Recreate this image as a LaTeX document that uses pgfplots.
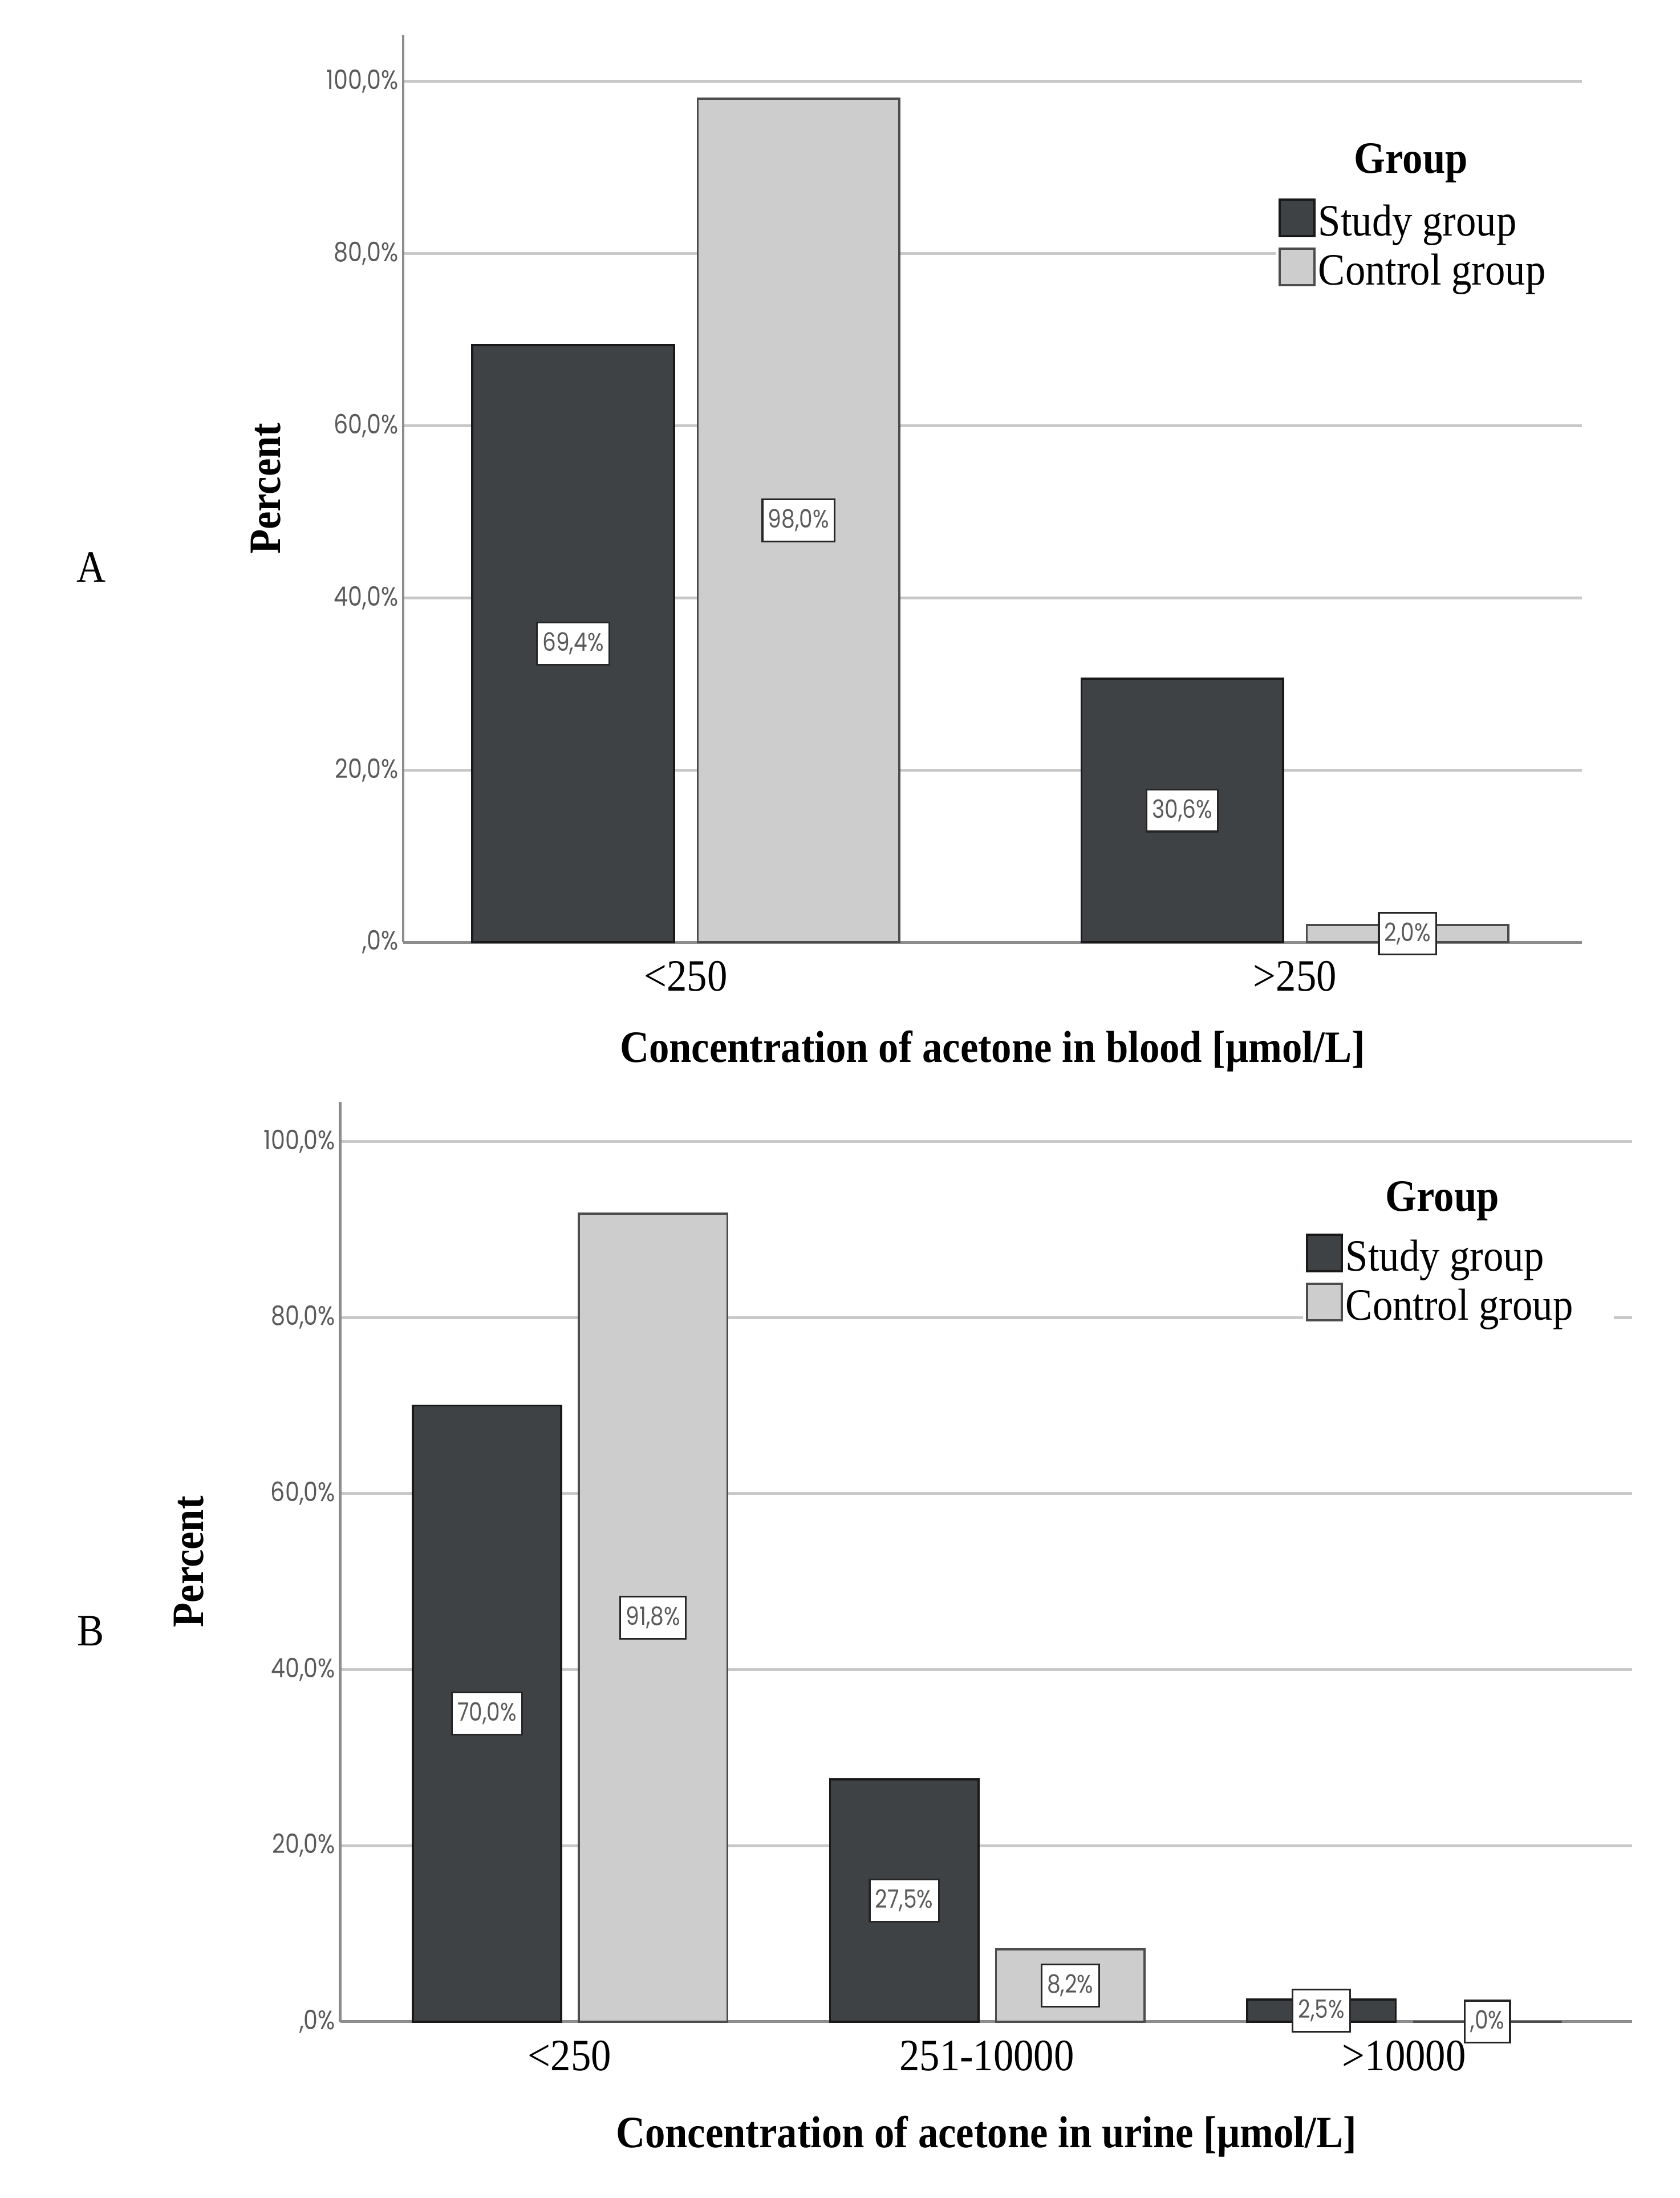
\documentclass[border=0pt]{standalone}
\usepackage{fontspec}
\setmainfont{Liberation Serif}[FakeStretch=0.9]
\newfontfamily\tickfont{Poppins}[FakeStretch=0.85]
\usepackage{pgfplots}
\pgfplotsset{compat=1.18}
\definecolor{studyc}{HTML}{3F4245}
\definecolor{ctrlc}{HTML}{CDCDCD}
\definecolor{gridc}{HTML}{C8C8C8}
\definecolor{axc}{HTML}{8C8C8C}
\definecolor{tickc}{HTML}{5A5A5A}
\pgfplotsset{
  mystyle/.style={
    scale only axis,
    axis x line*=bottom, axis y line*=left,
    axis line style={-, draw=axc, line width=2pt},
    ymajorgrids, grid style={gridc, line width=2pt},
    major tick length=0pt,
    ytick={0,20,40,60,80,100},
    yticklabels={{,0\%},{20,0\%},{40,0\%},{60,0\%},{80,0\%},{100,0\%}},
    yticklabel style={font=\tickfont\fontsize{19}{19}\selectfont, text=tickc},
    xticklabel style={font=\fontsize{32}{32}\selectfont, yshift=-10pt},
    xlabel style={font=\bfseries\fontsize{32}{32}\selectfont},
    ylabel style={font=\bfseries\fontsize{32}{32}\selectfont},
    legend style={draw=none, fill=white, font=\fontsize{32}{34}\selectfont,
      inner sep=2pt, row sep=5pt, cells={anchor=west}},
    clip=false,
  },
  studybar/.style={ybar, bar shift=0pt, fill=studyc, draw=black!90, line width=1.5pt,
    legend image code/.code={\draw[fill=studyc, draw=black!90, line width=1.5pt] (0pt,-10.5pt) rectangle (25pt,15.5pt);}},
  ctrlbar/.style={ybar, bar shift=0pt, fill=ctrlc, draw=black!70, line width=1.5pt,
    legend image code/.code={\draw[fill=ctrlc, draw=black!70, line width=1.5pt] (0pt,-10.5pt) rectangle (25pt,15.5pt);}},
  lab/.style={draw=none, mark=none, nodes near coords, point meta=explicit symbolic,
    nodes near coords align=center,
    every node near coord/.append style={anchor=center, font=\tickfont\fontsize{18}{18}\selectfont,
      text=tickc, fill=white, draw=black!85, line width=1.3pt, inner xsep=4pt, inner ysep=2pt,
      minimum height=30pt}},
}
\begin{document}
\begin{tikzpicture}[x=1pt,y=1pt]
\path[use as bounding box] (0,0) rectangle (1200,-1570);
\node[font=\fontsize{32}{32}\selectfont] at (65,-405) {A};
\node[font=\fontsize{32}{32}\selectfont] at (65,-1165) {B};
% ---------- Chart A ----------
\begin{axis}[mystyle,
  at={(288pt,-673pt)}, anchor=south west,
  width=842pt, height=648pt,
  xmin=-0.464, xmax=1.471, ymin=0, ymax=105.4,
  xtick={0,1}, xticklabels={<250,>250},
  xlabel={Concentration of acetone in blood [μmol/L]},
  xlabel style={at={(axis description cs:0.5,0)}, anchor=center, yshift=-78pt},
  ylabel={Percent},
  ylabel style={at={(axis description cs:-0.1164,0.5)}, anchor=center},
  legend style={at={(rel axis cs:0.740,0.823)}, anchor=north west},
]
\addplot[studybar, bar width=0.331] coordinates {(-0.185,69.4) (0.815,30.6)};
\addplot[ctrlbar, bar width=0.331] coordinates {(0.185,98.0) (1.185,2.0)};
\legend{Study group, Control group\rule{25pt}{0pt}}
\addplot[lab] coordinates {(-0.185,34.7)[69,4\%] (0.185,49.0)[98,0\%] (0.815,15.3)[30,6\%] (1.185,1.0)[2,0\%]};
\node[font=\bfseries\fontsize{32}{32}\selectfont] at (rel axis cs:0.855,0.859) {Group};
\end{axis}
% ---------- Chart B ----------
\begin{axis}[mystyle,
  at={(243pt,-1444pt)}, anchor=south west,
  width=923pt, height=657pt,
  xmin=-0.550, xmax=2.547, ymin=0, ymax=104.5,
  xtick={0,1,2}, xticklabels={<250,251-10000,>10000},
  xlabel={Concentration of acetone in urine [μmol/L]},
  xlabel style={at={(axis description cs:0.5,0)}, anchor=center, yshift=-82pt},
  ylabel={Percent},
  ylabel style={at={(axis description cs:-0.117,0.5)}, anchor=center},
  legend style={at={(rel axis cs:0.745,0.860)}, anchor=north west},
]
\addplot[studybar, bar width=0.356] coordinates {(-0.198,70.0) (0.802,27.5) (1.802,2.5)};
\addplot[ctrlbar, bar width=0.356] coordinates {(0.2,91.8) (1.2,8.2) (2.2,0)};
\legend{Study group, Control group\rule{25pt}{0pt}}
\addplot[lab] coordinates {(-0.198,35.0)[70,0\%] (0.2,45.9)[91,8\%] (0.802,13.75)[27,5\%] (1.2,4.1)[8,2\%] (1.802,1.25)[2,5\%] (2.2,0)[,0\%]};
\node[font=\bfseries\fontsize{32}{32}\selectfont] at (rel axis cs:0.853,0.892) {Group};
\end{axis}
\end{tikzpicture}
\end{document}
